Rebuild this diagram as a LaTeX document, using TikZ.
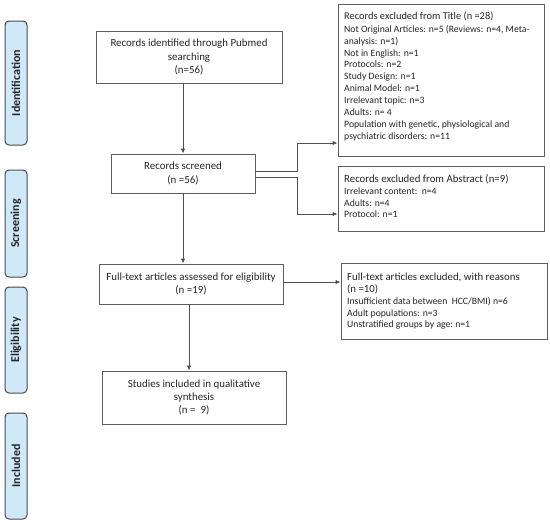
\documentclass[tikz,border=0pt]{standalone}
\usepackage{fontspec}
\setmainfont{Carlito}
\usetikzlibrary{arrows.meta}
\definecolor{boxgray}{HTML}{5E5E5E}
\definecolor{arrgray}{HTML}{505050}
\definecolor{sidegray}{HTML}{4A4A4A}
\definecolor{sideblue}{HTML}{CFE9FB}
\definecolor{txt}{HTML}{262626}
\begin{document}
\begin{tikzpicture}[x=1pt,y=-1pt,
  box/.style={draw=boxgray, line width=0.9pt, inner sep=0pt},
  side/.style={draw=sidegray, fill=sideblue, rounded corners=4pt, line width=1pt, minimum width=22pt, inner sep=0pt},
  sidelabel/.style={rotate=90, text=txt, font=\bfseries\fontsize{12}{14}\selectfont, inner sep=0pt},
  arr/.style={draw=arrgray, line width=0.9pt, -{Latex[length=5pt,width=4.5pt]}},
  maintext/.style={text=txt, font=\fontsize{10.9}{13.3}\selectfont, align=center},
  headtext/.style={text=txt, font=\fontsize{10.8}{11.5}\selectfont, inner sep=0pt, align=left},
  itemtext/.style={text=txt, font=\fontsize{9.7}{11.9}\selectfont, inner sep=0pt, align=left}
]
\useasboundingbox[fill=white] (0,0) rectangle (550,523);

% side bars
\node[side, minimum height=124pt] (s1) at (16,83) {};
\node[sidelabel] (l1) at (s1.center) {Identification};
\node[side, minimum height=107pt] (s2) at (16,223.5) {};
\node[sidelabel] (l2) at (s2.center) {Screening};
\node[side, minimum height=106pt] (s3) at (16,340) {};
\node[sidelabel] (l3) at (s3.center) {Eligibility};
\node[side, minimum height=106pt] (s4) at (16,466) {};
\node[sidelabel] (l4) at (s4.center) {Included};

% main boxes
\node[box, maintext, minimum width=186pt, minimum height=52pt] (b1) at (189,57)
  {Records identified through Pubmed\\searching\\(n=56)};
\node[box, maintext, minimum width=144pt, minimum height=39pt] (b2) at (183,173.5)
  {Records screened\\(n =56)};
\node[box, maintext, minimum width=184pt, minimum height=40pt] (b3) at (191,284)
  {Full-text articles assessed for eligibility\\(n =19)};
\node[box, maintext, minimum width=184pt, minimum height=53pt] (b4) at (194,397.5)
  {Studies included in qualitative\\synthesis\\(n =\ \ 9)};

% right boxes
\node[box, minimum width=206pt, minimum height=152pt] (tt) at (441,80.5) {};
\node[headtext, anchor=base west, font=\fontsize{10.4}{11.5}\selectfont] (tth) at (344,19.5) {Records excluded from Title (n =28)};
\node[itemtext, anchor=north west] (tti) at (344,25) {Not Original Articles: n=5 (Reviews: n=4, Meta-\\analysis: n=1)\\Not in English: n=1\\Protocols: n=2\\Study Design: n=1\\Animal Model: n=1\\Irrelevant topic: n=3\\Adults: n= 4\\Population with genetic, physiological and\\psychiatric disorders: n=11};

\node[box, minimum width=206pt, minimum height=65pt] (ab) at (441,198.5) {};
\node[headtext, anchor=base west] (abh) at (344,182.5) {Records excluded from Abstract (n=9)};
\node[itemtext, anchor=north west, font=\fontsize{9.7}{11.5}\selectfont] (abi) at (344,188) {Irrelevant content:\ \ n=4\\Adults: n=4\\Protocol: n=1};

\node[box, minimum width=206pt, minimum height=76pt] (ft) at (444,301) {};
\node[headtext, anchor=north west] (fth) at (347,273) {Full-text articles excluded, with reasons\\(n =10)};
\node[itemtext, anchor=north west, font=\fontsize{9.7}{11.7}\selectfont] (fti) at (347,297) {Insufficient data between\ \ HCC/BMI)\ n=6\\Adult populations: n=3\\Unstratified groups by age:\ n=1};

% junction points
\coordinate (j1) at (297,143);
\coordinate (j2) at (297,214);

% connectors
\draw[arr] (b2.north |- b1.south) -- (b2.north);
\draw[arr] (b2.south) -- (b2.south |- b3.north);
\draw[arr] ([xshift=-2pt]b3.south) -- ([xshift=-2pt]b3.south |- b4.north);
\draw[arr] ([yshift=2.5pt]b2.east) -| (j1) -- (j1 -| tt.west);
\draw[arr] ([yshift=-3.5pt]b2.east) -| (j2) -- (j2 -| ab.west);
\draw[arr] ([yshift=2pt]b3.east) -- ([yshift=2pt]b3.east -| ft.west);
\end{tikzpicture}
\end{document}
